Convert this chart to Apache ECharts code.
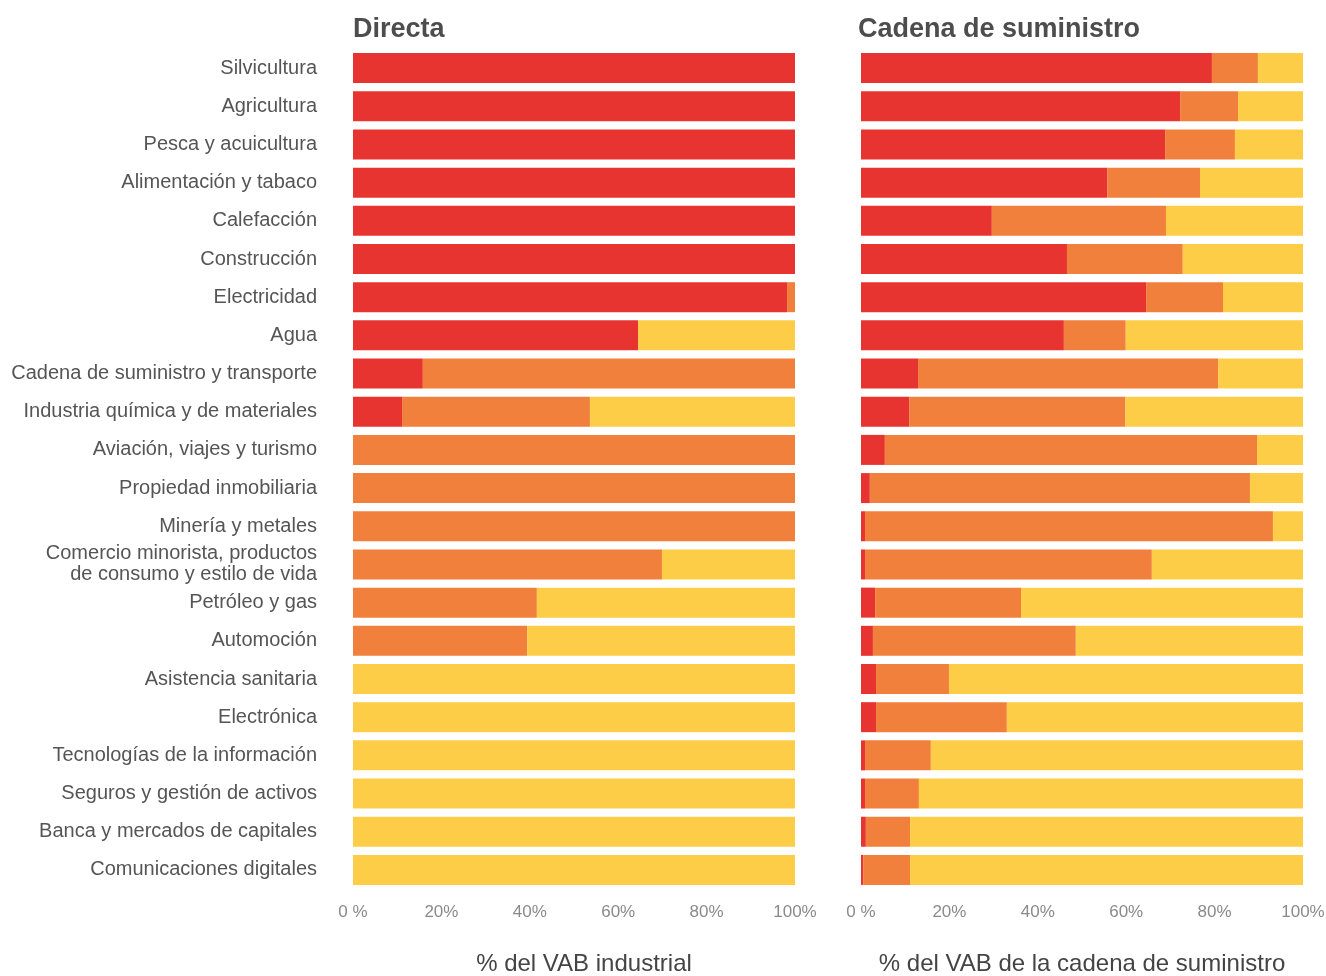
<!DOCTYPE html>
<html>
<head>
<meta charset="utf-8">
<script src="https://cdn.jsdelivr.net/npm/echarts@6/dist/echarts.min.js"></script>
<style>
  html, body { margin: 0; padding: 0; background: #fff; }
  #main { width: 1326px; height: 976px; }
</style>
</head>
<body>
<div id="main"></div>
<script>
// categorias (de arriba a abajo)
const categories = [
  'Silvicultura', 'Agricultura', 'Pesca y acuicultura', 'Alimentación y tabaco',
  'Calefacción', 'Construcción', 'Electricidad', 'Agua',
  'Cadena de suministro y transporte', 'Industria química y de materiales',
  'Aviación, viajes y turismo', 'Propiedad inmobiliaria', 'Minería y metales',
  'Comercio minorista, productos\nde consumo y estilo de vida', 'Petróleo y gas',
  'Automoción', 'Asistencia sanitaria', 'Electrónica', 'Tecnologías de la información',
  'Seguros y gestión de activos', 'Banca y mercados de capitales', 'Comunicaciones digitales'
];

// Directa
const directRed    = [100, 100, 100, 100, 100, 100, 98.2, 64.5, 15.8, 11.1, 0, 0, 0, 0, 0, 0, 0, 0, 0, 0, 0, 0];
const directOrange = [0, 0, 0, 0, 0, 0, 1.8, 0, 84.2, 42.5, 100, 100, 100, 69.9, 41.6, 39.4, 0, 0, 0, 0, 0, 0];
const directYellow = [0, 0, 0, 0, 0, 0, 0, 35.5, 0, 46.4, 0, 0, 0, 30.1, 58.4, 60.6, 100, 100, 100, 100, 100, 100];

// Cadena de suministro
const supplyRed    = [79.4, 72.2, 68.8, 55.7, 29.6, 46.6, 64.5, 45.9, 12.9, 10.9, 5.4, 2.0, 0.9, 0.9, 3.2, 2.7, 3.4, 3.4, 0.9, 0.9, 1.1, 0.5];
const supplyOrange = [10.4, 13.1, 15.8, 21.0, 39.4, 26.2, 17.4, 14.0, 67.9, 48.9, 84.2, 86.0, 92.3, 64.9, 33.0, 45.9, 16.5, 29.6, 14.9, 12.2, 10.0, 10.6];
const supplyYellow = [10.2, 14.7, 15.4, 23.3, 31.0, 27.2, 18.1, 40.1, 19.2, 40.2, 10.4, 12.0, 6.8, 34.2, 63.8, 51.4, 80.1, 67.0, 84.2, 86.9, 88.9, 88.9];

const xTicks = [0, 20, 40, 60, 80, 100];

const RED = '#e73431', ORANGE = '#f0803c', YELLOW = '#fdcd48';
const FONT = '"Liberation Sans", Arial, sans-serif';

const chart = echarts.init(document.getElementById('main'));

const xAxisBase = (idx, name, namePad) => ({
  gridIndex: idx,
  type: 'value',
  min: 0, max: 100, interval: 20,
  name: name,
  nameLocation: 'middle',
  nameGap: 63,
  nameTextStyle: { fontSize: 24, color: '#444', fontFamily: FONT, padding: namePad },
  axisLine: { show: false },
  axisTick: { show: false },
  splitLine: { show: false },
  axisLabel: {
    margin: 15,
    fontSize: 17, color: '#8a8a8a', fontFamily: FONT,
    formatter: v => xTicks.includes(v) ? (v === 0 ? '0 %' : v + '%') : ''
  }
});

const yAxisBase = (idx, showLabels) => ({
  gridIndex: idx,
  type: 'category',
  inverse: true,
  data: categories,
  axisLine: { show: false },
  axisTick: { show: false },
  splitLine: { show: false },
  axisLabel: {
    show: showLabels,
    margin: 36,
    fontSize: 20, color: '#555', fontFamily: FONT,
    lineHeight: 21,
    padding: [9, 0, 0, 0]
  }
});

const bar = (name, data, color, idx) => ({
  name: name,
  type: 'bar',
  stack: 'g' + idx,
  xAxisIndex: idx,
  yAxisIndex: idx,
  data: data,
  barWidth: 30,
  itemStyle: { color: color },
  emphasis: { disabled: true }
});

const titleStyle = { fontSize: 27, fontWeight: 'bold', color: '#4d4d4d', fontFamily: FONT };

const option = {
  animation: false,
  title: [
    { text: 'Directa', left: 348, top: 11, textStyle: titleStyle },
    { text: 'Cadena de suministro', left: 853, top: 11, textStyle: titleStyle }
  ],
  grid: [
    { left: 353, width: 442, top: 49, height: 840, outerBoundsMode: 'none' },
    { left: 861, width: 442, top: 49, height: 840, outerBoundsMode: 'none' }
  ],
  xAxis: [
    xAxisBase(0, '% del VAB industrial', [0, 0, 0, 20]),
    xAxisBase(1, '% del VAB de la cadena de suministro', 0)
  ],
  yAxis: [
    yAxisBase(0, true),
    yAxisBase(1, false)
  ],
  series: [
    bar('Rojo', directRed, RED, 0),
    bar('Naranja', directOrange, ORANGE, 0),
    bar('Amarillo', directYellow, YELLOW, 0),
    bar('Rojo', supplyRed, RED, 1),
    bar('Naranja', supplyOrange, ORANGE, 1),
    bar('Amarillo', supplyYellow, YELLOW, 1)
  ]
};

chart.setOption(option);
</script>
</body>
</html>
